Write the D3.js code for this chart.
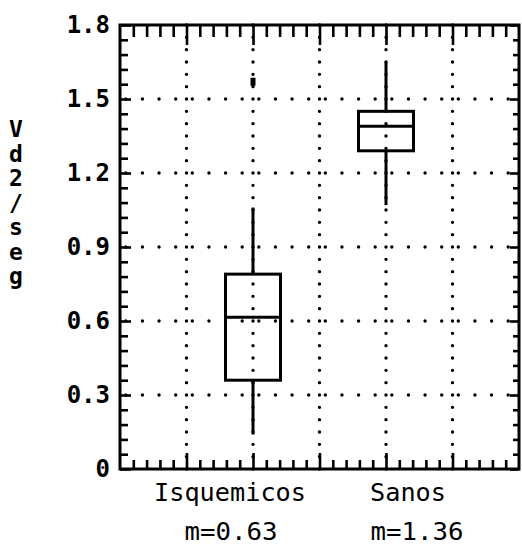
<!DOCTYPE html>
<html>
<head>
<meta charset="utf-8">
<script src="https://cdn.jsdelivr.net/npm/d3@7"></script>
<style>
  html, body { margin: 0; padding: 0; background: #fff; }
  svg { display: block; }
  text { font-family: "DejaVu Sans Mono", "Liberation Mono", monospace; fill: #000; }
</style>
</head>
<body>
<svg id="chart" width="522" height="550"></svg>
<script>
// Box plot data (Vd2/seg)
const categories   = ["Isquemicos", "Sanos"];
const positions    = [2, 4];
const whiskerLow   = [0.14, 1.07];
const q1           = [0.36, 1.29];
const medians      = [0.615, 1.39];
const q3           = [0.79, 1.45];
const whiskerHigh  = [1.06, 1.65];
const outliers     = [[1.57], []];
const meanLabels   = ["m=0.63", "m=1.36"];

const yTickValues  = [0, 0.3, 0.6, 0.9, 1.2, 1.5, 1.8];
const yTickLabels  = ["0", "0.3", "0.6", "0.9", "1.2", "1.5", "1.8"];
const xGridValues  = [1, 2, 3, 4, 5];
const yTitleChars  = ["V", "d", "2", "/", "s", "e", "g"];

const svg = d3.select("#chart");
const plotLeft = 120, plotRight = 519, plotTop = 25, plotBottom = 469;

const x = d3.scaleLinear().domain([0, 6]).range([plotLeft, plotRight]);
const y = d3.scaleLinear().domain([0, 1.8]).range([plotBottom, plotTop]);

const xMinor = d3.range(0, 6.0001, 0.2).filter(v => Math.abs(v - Math.round(v)) > 1e-6);
const yMinor = d3.range(0, 1.8001, 0.06).filter(v => Math.abs(v / 0.3 - Math.round(v / 0.3)) > 1e-6);

// Dotted grid
const grid = svg.append("g")
  .attr("stroke", "#000")
  .attr("stroke-linecap", "round")
  .attr("stroke-width", 3.4);

grid.selectAll("line.h")
  .data(yTickValues.slice(1, -1))
  .join("line")
  .attr("x1", plotLeft).attr("x2", plotRight)
  .attr("y1", d => y(d)).attr("y2", d => y(d))
  .attr("stroke-dasharray", `0 ${(x(1) - x(0)) / 4}`)
  .attr("stroke-dashoffset", -((x(1) - x(0)) / 4) * 0.35);

grid.selectAll("line.v")
  .data(xGridValues)
  .join("line")
  .attr("x1", d => x(d)).attr("x2", d => x(d))
  .attr("y1", plotBottom).attr("y2", plotTop)
  .attr("stroke-dasharray", `0 ${(y(0) - y(0.3)) / 6}`);

// Inward-pointing ticks on all four sides
function styleAxis(g) {
  g.select(".domain").remove();
  g.selectAll(".tick line").attr("stroke", "#000").attr("stroke-width", 2.6);
  g.selectAll(".tick text").remove();
}
svg.append("g").attr("transform", `translate(${plotLeft},0)`)
  .call(d3.axisLeft(y).tickValues(yMinor).tickSize(-8)).call(styleAxis);
svg.append("g").attr("transform", `translate(${plotLeft},0)`)
  .call(d3.axisLeft(y).tickValues(yTickValues).tickSize(-11)).call(styleAxis);
svg.append("g").attr("transform", `translate(${plotRight},0)`)
  .call(d3.axisRight(y).tickValues(yMinor).tickSize(-6)).call(styleAxis);
svg.append("g").attr("transform", `translate(${plotRight},0)`)
  .call(d3.axisRight(y).tickValues(yTickValues).tickSize(-9)).call(styleAxis);
svg.append("g").attr("transform", `translate(0,${plotTop})`)
  .call(d3.axisTop(x).tickValues(xMinor).tickSize(-12)).call(styleAxis);
svg.append("g").attr("transform", `translate(0,${plotTop})`)
  .call(d3.axisTop(x).tickValues(xGridValues).tickSize(-20)).call(styleAxis);
svg.append("g").attr("transform", `translate(0,${plotBottom})`)
  .call(d3.axisBottom(x).tickValues(xMinor).tickSize(-9)).call(styleAxis);
svg.append("g").attr("transform", `translate(0,${plotBottom})`)
  .call(d3.axisBottom(x).tickValues(xGridValues).tickSize(-16)).call(styleAxis);

// Frame
svg.append("rect")
  .attr("x", plotLeft).attr("y", plotTop)
  .attr("width", plotRight - plotLeft).attr("height", plotBottom - plotTop)
  .attr("fill", "none").attr("stroke", "#000").attr("stroke-width", 3);

// Y tick labels
svg.append("g").selectAll("text")
  .data(yTickValues)
  .join("text")
  .attr("x", plotLeft - 10)
  .attr("y", d => y(d) + 8)
  .attr("text-anchor", "end")
  .attr("font-size", 24)
  .attr("font-weight", "bold")
  .text((d, i) => yTickLabels[i]);

// Y title, stacked characters
svg.append("g").selectAll("text")
  .data(yTitleChars)
  .join("text")
  .attr("x", 16)
  .attr("y", (d, i) => 137 + i * 24.5)
  .attr("text-anchor", "middle")
  .attr("font-size", 23)
  .attr("font-weight", "bold")
  .text(d => d);

// Boxes
const boxHalf = 27.5;
const boxes = svg.append("g")
  .attr("stroke", "#000").attr("stroke-width", 3).attr("fill", "none");

categories.forEach((c, i) => {
  const cx = x(positions[i]);
  boxes.append("line")
    .attr("x1", cx).attr("x2", cx)
    .attr("y1", y(whiskerHigh[i])).attr("y2", y(q3[i]));
  boxes.append("line")
    .attr("x1", cx).attr("x2", cx)
    .attr("y1", y(q1[i])).attr("y2", y(whiskerLow[i]));
  boxes.append("rect")
    .attr("x", cx - boxHalf).attr("width", boxHalf * 2)
    .attr("y", y(q3[i])).attr("height", y(q1[i]) - y(q3[i]))
    .attr("fill", "none");
  boxes.append("line")
    .attr("x1", cx - boxHalf).attr("x2", cx + boxHalf)
    .attr("y1", y(medians[i])).attr("y2", y(medians[i]));
  outliers[i].forEach(v => {
    svg.append("rect")
      .attr("x", cx - 2.5).attr("y", y(v) - 4)
      .attr("width", 5).attr("height", 8)
      .attr("fill", "#000");
  });
});

// Category and mean labels
const labelShift = [-23, 22];
const meanShift = [-22, 31];
svg.append("g").selectAll("text")
  .data(categories)
  .join("text")
  .attr("x", (d, i) => x(positions[i]) + labelShift[i])
  .attr("y", 501)
  .attr("text-anchor", "middle")
  .attr("font-size", 24)
  .attr("textLength", d => d.length * 15.2)
  .attr("lengthAdjust", "spacingAndGlyphs")
  .text(d => d);

svg.append("g").selectAll("text")
  .data(meanLabels)
  .join("text")
  .attr("x", (d, i) => x(positions[i]) + meanShift[i])
  .attr("y", 540)
  .attr("text-anchor", "middle")
  .attr("font-size", 24)
  .attr("textLength", d => d.length * 15.5)
  .attr("lengthAdjust", "spacingAndGlyphs")
  .text(d => d);
</script>
</body>
</html>
